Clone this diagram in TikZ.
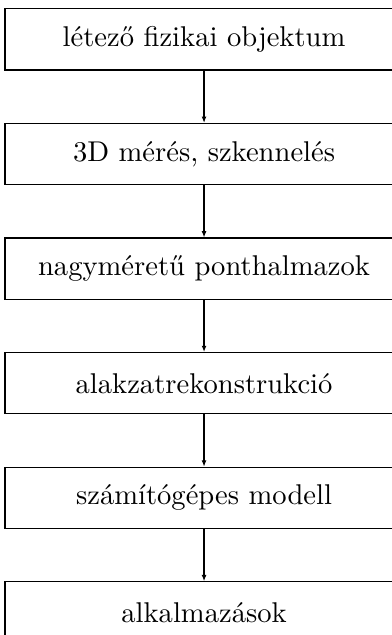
\documentclass[tikz,border=0pt]{standalone}
\usepackage{fontspec}
\usepackage{tikz}
\usetikzlibrary{positioning,arrows.meta}

\tikzset{lepes/.style={draw, rectangle, minimum width=139.3pt, minimum height=21.4pt, inner sep=2pt}}

\begin{document}
\begin{tikzpicture}[node distance=18.3pt]
			\useasboundingbox (-71.4pt,13.8pt) rectangle (65.45pt,-208.4pt);
			\node[lepes] (objektum) at (0,0) {létező fizikai objektum};
			\node[lepes, below=of objektum] (meres) {3D mérés, szkennelés};
			\node[lepes, below=of meres] (pontok) {nagyméretű ponthalmazok};
			\node[lepes, below=of pontok] (rekonstr) {alakzatrekonstrukció};
			\node[lepes, below=of rekonstr] (modell) {számítógépes modell};
			\node[lepes, below=of modell] (alkalm) {alkalmazások};

			\draw[-{Latex[length=2.2pt,width=1.7pt]}] (objektum) -- (meres);
			\draw[-{Latex[length=2.2pt,width=1.7pt]}] (meres) -- (pontok);
			\draw[-{Latex[length=2.2pt,width=1.7pt]}] (pontok) -- (rekonstr);
			\draw[-{Latex[length=2.2pt,width=1.7pt]}] (rekonstr) -- (modell);
			\draw[-{Latex[length=2.2pt,width=1.7pt]}] (modell) -- (alkalm);
		\end{tikzpicture}
\end{document}
